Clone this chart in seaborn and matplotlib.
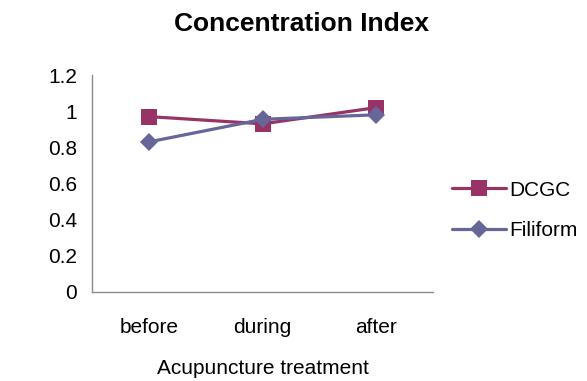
import matplotlib
matplotlib.use("Agg")
import matplotlib.pyplot as plt
import seaborn as sns
import pandas as pd

stages = ["before", "during", "after"]
dcgc = [0.97, 0.93, 1.02]
filiform = [0.83, 0.955, 0.98]
series_names = ["DCGC", "Filiform"]

df = pd.DataFrame({
    "stage": stages * 2,
    "value": dcgc + filiform,
    "group": [series_names[0]] * 3 + [series_names[1]] * 3,
})

sns.set_theme(style="white")
plt.rcParams["font.family"] = ["Liberation Sans", "DejaVu Sans"]
plt.rcParams["text.color"] = "black"
plt.rcParams["axes.labelcolor"] = "black"

fig = plt.figure(figsize=(5.87, 3.81), dpi=100)
ax = fig.add_axes([0.157, 0.234, 0.581, 0.569])

palette = {"DCGC": "#993366", "Filiform": "#666699"}
markers = {"DCGC": "s", "Filiform": "D"}
sns.lineplot(data=df, x="stage", y="value", hue="group", style="group",
             palette=palette, markers=markers, dashes=False, linewidth=2.3,
             markersize=11, markeredgewidth=0, ax=ax, sort=False)

# diamonds render a bit larger than squares at equal size
for line in ax.lines:
    if line.get_marker() == "D":
        line.set_markersize(9.5)

ax.set_xlim(-0.5, 2.5)
ax.set_ylim(0, 1.2)
ax.set_yticks([0, 0.2, 0.4, 0.6, 0.8, 1.0, 1.2])
ax.set_yticklabels(["0", "0.2", "0.4", "0.6", "0.8", "1", "1.2"])
ax.tick_params(axis="both", length=0, labelsize=15, colors="black")
ax.tick_params(axis="x", pad=19)
ax.tick_params(axis="y", pad=11)

for side in ["top", "right"]:
    ax.spines[side].set_visible(False)
for side in ["left", "bottom"]:
    ax.spines[side].set_color("#8c8c8c")
    ax.spines[side].set_linewidth(1.0)

ax.set_xlabel("Acupuncture treatment", fontsize=15, labelpad=16)
ax.set_ylabel("")
ax.set_title("Concentration Index", fontsize=19, fontweight="bold",
             pad=32, x=0.615, color="black")

handles, labels = ax.get_legend_handles_labels()
for h in handles:
    if h.get_marker() == "D":
        h.set_markersize(9.5)
ax.legend(handles, labels, loc="center left", bbox_to_anchor=(1.0, 0.375),
          frameon=False, fontsize=15, handlelength=2.6, handletextpad=0.15,
          labelspacing=1.05)

fig.savefig("out.png", dpi=100)
